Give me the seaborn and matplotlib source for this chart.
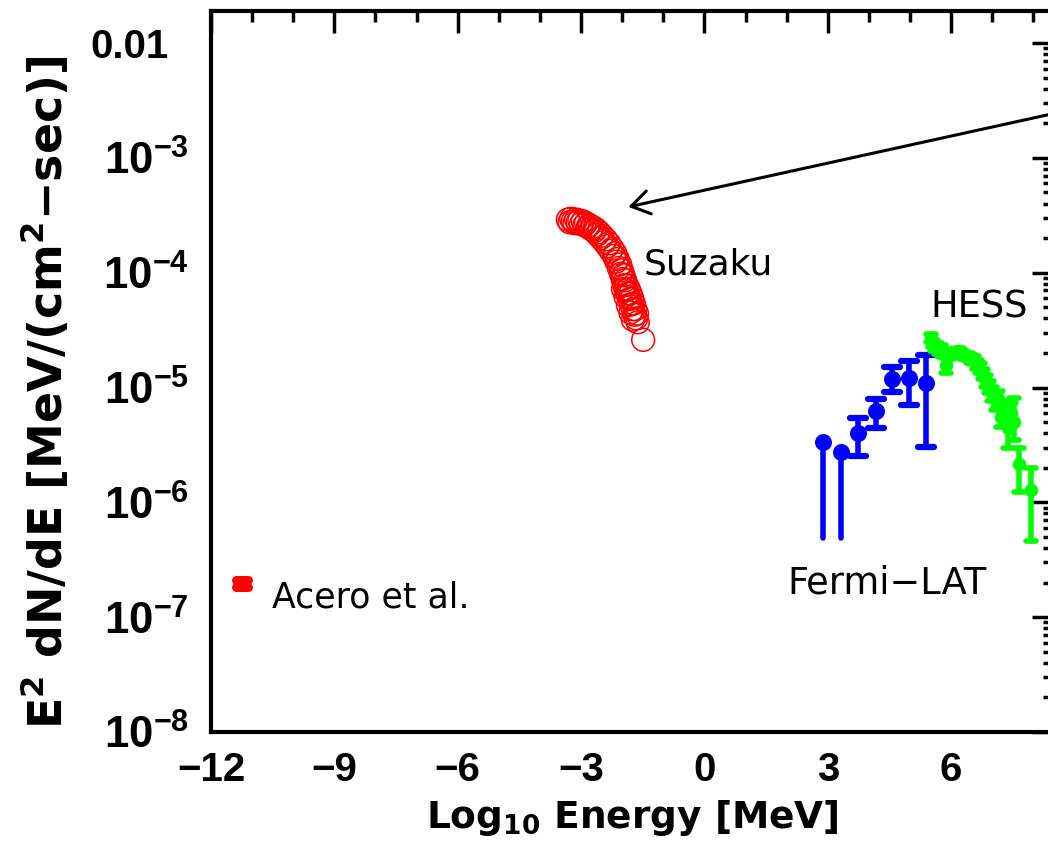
import matplotlib
matplotlib.use("Agg")
import matplotlib.pyplot as plt
import seaborn as sns
import pandas as pd
from matplotlib.ticker import FixedLocator, MultipleLocator, NullFormatter, LogLocator
from matplotlib.transforms import ScaledTranslation
from matplotlib.markers import MarkerStyle

# --- Suzaku X-ray spectrum (log10 E [MeV], E^2 dN/dE) ---
suzaku_logE = [-3.32, -3.28, -3.24, -3.20, -3.16, -3.12, -3.08, -3.04, -3.00, -2.96,
               -2.92, -2.88, -2.84, -2.80, -2.76, -2.72, -2.68, -2.64, -2.60, -2.56,
               -2.52, -2.48, -2.44, -2.40, -2.36, -2.32, -2.28, -2.24, -2.20, -2.17,
               -2.14, -2.11, -2.08, -2.05, -2.03, -2.01, -1.99, -1.97, -1.95, -1.93,
               -1.91, -1.89, -1.98, -1.86, -1.84, -1.82, -1.92, -1.80, -1.78, -1.76,
               -1.86, -1.74, -1.72, -1.70, -1.80, -1.68, -1.66, -1.64, -1.74, -1.62,
               -1.49]
suzaku_flux = [2.90e-4, 2.75e-4, 2.95e-4, 2.80e-4, 2.70e-4, 2.90e-4, 2.75e-4, 2.85e-4, 2.65e-4, 2.80e-4,
               2.60e-4, 2.70e-4, 2.50e-4, 2.60e-4, 2.40e-4, 2.50e-4, 2.30e-4, 2.40e-4, 2.15e-4, 2.25e-4,
               2.00e-4, 2.10e-4, 1.85e-4, 1.95e-4, 1.70e-4, 1.80e-4, 1.55e-4, 1.62e-4, 1.40e-4, 1.48e-4,
               1.25e-4, 1.32e-4, 1.10e-4, 1.18e-4, 9.8e-5, 1.05e-4, 8.8e-5, 9.5e-5, 7.8e-5, 8.6e-5,
               7.0e-5, 7.8e-5, 7.2e-5, 6.6e-5, 7.2e-5, 5.9e-5, 6.2e-5, 6.6e-5, 5.3e-5, 6.0e-5,
               5.2e-5, 4.8e-5, 5.4e-5, 4.3e-5, 4.5e-5, 4.8e-5, 4.0e-5, 4.4e-5, 3.9e-5, 3.7e-5,
               2.6e-5]

# --- Fermi-LAT spectrum ---
fermi_logE = [2.89, 3.33, 3.74, 4.16, 4.57, 4.98, 5.40]
fermi_flux = [3.36e-6, 2.75e-6, 4.03e-6, 6.25e-6, 1.19e-5, 1.21e-5, 1.10e-5]
fermi_lo = [4.9e-7, 4.9e-7, 2.54e-6, 4.45e-6, 9.17e-6, 7.05e-6, 3.04e-6]
fermi_hi = [3.36e-6, 2.75e-6, 5.43e-6, 7.96e-6, 1.51e-5, 1.71e-5, 1.92e-5]

# --- HESS spectrum ---
hess_logE = [5.50, 5.55, 5.60, 5.65, 5.70, 5.75, 5.80, 5.87, 5.95, 6.03,
             6.10, 6.18, 6.25, 6.32, 6.40, 6.48, 6.55, 6.62, 6.70, 6.77,
             6.85, 6.92, 7.00, 7.08, 7.15, 7.22, 7.30, 7.37, 7.45, 7.52,
             7.66, 7.93]
hess_flux = [2.69e-5, 2.40e-5, 2.24e-5, 2.29e-5, 2.09e-5, 2.19e-5, 2.00e-5, 1.58e-5, 1.91e-5, 2.00e-5,
             2.04e-5, 2.09e-5, 2.00e-5, 1.91e-5, 1.86e-5, 1.78e-5, 1.74e-5, 1.58e-5, 1.48e-5, 1.32e-5,
             1.15e-5, 1.02e-5, 8.9e-6, 7.6e-6, 7.9e-6, 5.5e-6, 6.3e-6, 4.4e-6, 6.0e-6, 5.0e-6,
             2.14e-6, 1.29e-6]
hess_lo = [2.50e-5, 2.25e-5, 2.10e-5, 2.15e-5, 1.95e-5, 2.05e-5, 1.85e-5, 1.35e-5, 1.78e-5, 1.87e-5,
           1.91e-5, 1.95e-5, 1.87e-5, 1.78e-5, 1.73e-5, 1.65e-5, 1.60e-5, 1.44e-5, 1.34e-5, 1.18e-5,
           1.02e-5, 8.9e-6, 7.7e-6, 6.4e-6, 6.6e-6, 4.5e-6, 5.1e-6, 2.95e-6, 4.8e-6, 3.5e-6,
           1.23e-6, 4.6e-7]
hess_hi = [2.90e-5, 2.58e-5, 2.40e-5, 2.45e-5, 2.25e-5, 2.35e-5, 2.15e-5, 1.82e-5, 2.05e-5, 2.15e-5,
           2.18e-5, 2.23e-5, 2.14e-5, 2.05e-5, 2.00e-5, 1.92e-5, 1.88e-5, 1.72e-5, 1.62e-5, 1.46e-5,
           1.28e-5, 1.15e-5, 1.02e-5, 8.9e-6, 9.3e-6, 6.6e-6, 7.6e-6, 5.6e-6, 7.3e-6, 8.1e-6,
           2.95e-6, 2.00e-6]

# --- Acero et al. radio point ---
acero_logE = [-11.25]
acero_flux = [1.97e-7]
acero_lo = [1.83e-7]
acero_hi = [2.11e-7]

# axis setup
x_ticks = [-12, -9, -6, -3, 0, 3, 6]
y_ticks = [1e-8, 1e-7, 1e-6, 1e-5, 1e-4, 1e-3, 1e-2]
y_tick_labels = [r"$10^{-8}$", r"$10^{-7}$", r"$10^{-6}$", r"$10^{-5}$",
                 r"$10^{-4}$", r"$10^{-3}$", "0.01"]

sns.set_theme(style="white")
plt.rcParams["font.family"] = ["Liberation Sans", "DejaVu Sans"]
plt.rcParams["mathtext.default"] = "regular"
for key in ("text.color", "axes.labelcolor", "xtick.color", "ytick.color",
            "xtick.labelcolor", "ytick.labelcolor", "axes.edgecolor"):
    plt.rcParams[key] = "black"

fig = plt.figure(figsize=(10.48, 8.61), dpi=100)
ax = fig.add_axes([0.2013, 0.1498, 0.8044, 0.8374])
ax.set_facecolor("white")

RED, BLUE, GREEN = "#ff0000", "#0000ff", "#00ff00"
ROUND_CAP = MarkerStyle("_", capstyle="round")


def round_caps(container):
    for cap in container.lines[1]:
        cap.set_marker(ROUND_CAP)
    for coll in container.lines[2]:
        coll.set_capstyle("round")


# Suzaku open circles
suz = pd.DataFrame({"logE": suzaku_logE, "flux": suzaku_flux})
sns.scatterplot(data=suz, x="logE", y="flux", ax=ax, marker="o", s=270,
                facecolors="none", edgecolor=RED, linewidth=1.1, zorder=3)

# Fermi-LAT: the two lowest-energy points drop to their lower bounds without caps
fer = pd.DataFrame({"logE": fermi_logE, "flux": fermi_flux,
                    "lo": fermi_lo, "hi": fermi_hi})
for i, row in fer.iterrows():
    cap = 0 if i < 2 else 5.5
    eb = ax.errorbar(row.logE, row.flux,
                     yerr=[[row.flux - row.lo], [row.hi - row.flux]],
                     fmt="none", ecolor=BLUE, elinewidth=4, capsize=cap,
                     capthick=4.5, zorder=3)
    round_caps(eb)
sns.scatterplot(data=fer, x="logE", y="flux", ax=ax, marker="o", s=150,
                color=BLUE, edgecolor=BLUE, linewidth=0, zorder=4)

# HESS
hes = pd.DataFrame({"logE": hess_logE, "flux": hess_flux,
                    "lo": hess_lo, "hi": hess_hi})
eb = ax.errorbar(hes.logE, hes.flux,
                 yerr=[hes.flux - hes.lo, hes.hi - hes.flux],
                 fmt="none", ecolor=GREEN, elinewidth=4, capsize=3.5,
                 capthick=4, zorder=5)
round_caps(eb)
sns.scatterplot(data=hes, x="logE", y="flux", ax=ax, marker="o", s=95,
                color=GREEN, edgecolor=GREEN, linewidth=0, zorder=5)

# Acero et al.
eb = ax.errorbar(acero_logE, acero_flux,
                 yerr=[[acero_flux[0] - acero_lo[0]], [acero_hi[0] - acero_flux[0]]],
                 fmt="none", ecolor=RED, elinewidth=4, capsize=4.5, capthick=6.5,
                 zorder=3)
round_caps(eb)

# labels on the plot
ann = dict(ha="left", va="center", color="black", family="DejaVu Sans")
ax.text(-1.49, 1.17e-4, "Suzaku", fontsize=26, **ann)
ax.text(5.49, 5.0e-5, "HESS", fontsize=26.5, **ann)
ax.text(2.01, 2.0e-7, "Fermi\u2212LAT", fontsize=26.5, **ann)
ax.text(-10.52, 1.47e-7, "Acero et al.", fontsize=25, **ann)

# arrow coming in from the right
ax.annotate("", xy=(-1.85, 3.74e-4), xytext=(8.6, 2.48e-3),
            arrowprops=dict(arrowstyle="->,head_length=0.65,head_width=0.42",
                            color="black", lw=2.2, mutation_scale=20,
                            shrinkA=0, shrinkB=0),
            annotation_clip=False, zorder=6)

ax.set_yscale("log")
ax.set_xlim(-12, 8.5)
ax.set_ylim(1e-8, 0.019)

ax.xaxis.set_major_locator(FixedLocator(x_ticks))
ax.xaxis.set_minor_locator(MultipleLocator(1))
ax.set_xticklabels([str(t).replace("-", "\u2212") for t in x_ticks])
ax.yaxis.set_major_locator(FixedLocator(y_ticks))
ax.set_yticklabels(y_tick_labels)
ax.yaxis.set_minor_locator(LogLocator(base=10, subs=range(2, 10), numticks=20))
ax.yaxis.set_minor_formatter(NullFormatter())

ax.tick_params(which="both", direction="in", top=True, right=True, color="black")
ax.tick_params(which="major", length=16, width=2.5)
ax.tick_params(which="minor", length=8, width=2.5)
ax.tick_params(axis="x", which="major", pad=14, labelsize=29)
ax.tick_params(axis="y", which="major", pad=16, labelsize=29)

for sp in ax.spines.values():
    sp.set_visible(True)
    sp.set_color("black")
    sp.set_linewidth(3)

ax.set_xlabel(r"Log$_{10}$ Energy [MeV]", fontsize=27, fontweight="bold",
              family="DejaVu Sans", labelpad=6)
ax.set_ylabel("E$^{2}$ dN/dE [MeV/(cm$^{2}$\u2212sec)]", fontsize=33,
              fontweight="bold", family="DejaVu Sans")
ax.yaxis.set_label_coords(-0.165, 0.4716)

fig.canvas.draw()
for lab in ax.get_xticklabels() + ax.get_yticklabels():
    lab.set_fontweight("bold")
for lab in ax.get_yticklabels()[:-1]:
    lab.set_fontsize(31.5)
# the plain "0.01" label sits a little further from the axis than the powers of ten
top_label = ax.get_yticklabels()[-1]
top_label.set_transform(top_label.get_transform()
                        + ScaledTranslation(-20 / 100, 0, fig.dpi_scale_trans))

fig.savefig("out.png", dpi=100, facecolor="white")
